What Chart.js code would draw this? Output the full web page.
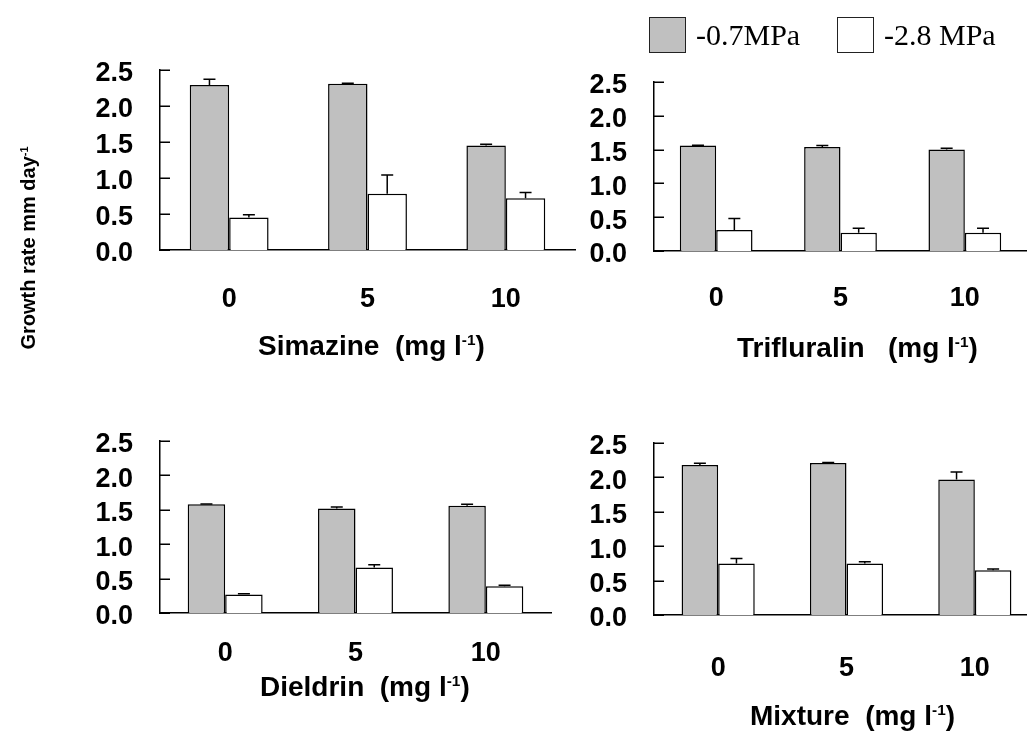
<!DOCTYPE html>
<html>
<head>
<meta charset="utf-8">
<script src="https://cdn.jsdelivr.net/npm/chart.js@4.4.1/dist/chart.umd.min.js"></script>
<style>
  html, body { margin: 0; padding: 0; background: #fff; overflow: hidden; }
  #wrap { position: relative; width: 1027px; height: 733px; overflow: hidden; background: #fff; }
  #wrap canvas { position: absolute; }
  .axis-title {
    position: absolute;
    font-family: "Liberation Sans", Arial, sans-serif;
    font-weight: bold;
    font-size: 28px;
    line-height: 28px;
    white-space: pre;
    color: #000;
  }
  .axis-title sup, .y-title sup {
    font-size: 55%;
    line-height: 0;
    vertical-align: 0;
    position: relative;
    top: -0.66em;
  }
  .y-title {
    position: absolute;
    left: 28px;
    top: 248px;
    transform: translate(-50%, -50%) rotate(-90deg);
    font-family: "Liberation Sans", Arial, sans-serif;
    font-weight: bold;
    font-size: 20px;
    line-height: 20px;
    white-space: nowrap;
    color: #000;
  }
  .legend-item { position: absolute; top: 17px; height: 36px; display: flex; align-items: center; }
  .legend-box { width: 37px; height: 36px; box-sizing: border-box; border: 1.5px solid #222; margin-right: 10px; }
  .legend-text { font-family: "Liberation Serif", "Times New Roman", serif; font-size: 30px; line-height: 36px; color: #000; white-space: pre; }
</style>
</head>
<body>
<div id="wrap">
  <div class="y-title">Growth rate mm day<sup>-1</sup></div>
  <div class="axis-title" style="left:258px; top:332px;">Simazine  (mg l<sup>-1</sup>)</div>
  <div class="axis-title" style="left:737px; top:334px;">Trifluralin   (mg l<sup>-1</sup>)</div>
  <div class="axis-title" style="left:260px; top:673px;">Dieldrin  (mg l<sup>-1</sup>)</div>
  <div class="axis-title" style="left:750px; top:702px;">Mixture  (mg l<sup>-1</sup>)</div>
</div>
<script>
// Concentrations (mg l-1) on each x axis
const categories = ['0', '5', '10'];
// Y axis tick values (growth rate, mm day-1)
const yTickValues = [0, 0.5, 1.0, 1.5, 2.0, 2.5];
// Water potential treatments
const seriesLabels = ['-0.7MPa', '-2.8 MPa'];
const seriesColors = ['#c0c0c0', '#ffffff'];

// Simazine
const simazineHigh = [2.29, 2.31, 1.45];
const simazineHighErr = [0.08, 0.005, 0.02];
const simazineLow = [0.45, 0.78, 0.72];
const simazineLowErr = [0.04, 0.26, 0.08];

// Trifluralin
const trifluralinHigh = [1.56, 1.54, 1.50];
const trifluralinHighErr = [0.005, 0.02, 0.02];
const trifluralinLow = [0.31, 0.27, 0.27];
const trifluralinLowErr = [0.17, 0.065, 0.065];

// Dieldrin
const dieldrinHigh = [1.58, 1.52, 1.56];
const dieldrinHighErr = [0.005, 0.02, 0.02];
const dieldrinLow = [0.27, 0.66, 0.39];
const dieldrinLowErr = [0.01, 0.04, 0.015];

// Mixture
const mixtureHigh = [2.18, 2.21, 1.97];
const mixtureHighErr = [0.025, 0.005, 0.11];
const mixtureLow = [0.75, 0.75, 0.65];
const mixtureLowErr = [0.07, 0.025, 0.02];

const FONT = "'Liberation Sans', Arial, sans-serif";

// Upward-only error bars with a short cap
const errorBarsPlugin = {
  id: 'errorBars',
  afterDatasetsDraw(chart) {
    const ctx = chart.ctx;
    const yScale = chart.scales.y;
    chart.data.datasets.forEach((ds, i) => {
      const meta = chart.getDatasetMeta(i);
      meta.data.forEach((bar, j) => {
        const topPx = yScale.getPixelForValue(ds.data[j] + ds.errors[j]);
        ctx.save();
        ctx.strokeStyle = '#000';
        ctx.lineWidth = 1.5;
        ctx.beginPath();
        ctx.moveTo(bar.x, bar.y);
        ctx.lineTo(bar.x, topPx);
        ctx.moveTo(bar.x - 6, topPx);
        ctx.lineTo(bar.x + 6, topPx);
        ctx.stroke();
        ctx.restore();
      });
    });
  }
};

// Tick marks on the value axis point into the plot
const innerTicksPlugin = {
  id: 'innerTicks',
  afterDraw(chart) {
    const ctx = chart.ctx;
    const yScale = chart.scales.y;
    const x0 = chart.chartArea.left;
    ctx.save();
    ctx.strokeStyle = '#000';
    ctx.lineWidth = 1.5;
    ctx.beginPath();
    yScale.ticks.forEach(t => {
      const py = Math.round(yScale.getPixelForValue(t.value)) + 0.25;
      ctx.moveTo(x0, py);
      ctx.lineTo(x0 + 10, py);
    });
    ctx.stroke();
    ctx.restore();
  }
};

const panels = [
  { high: simazineHigh, highErr: simazineHighErr, low: simazineLow, lowErr: simazineLowErr,
    x: 40, y: 40, w: 560, h: 300, yAxisW: 120, padTop: 30, padRight: 25, xAxisH: 90, xPad: 33, group: 0.57 },
  { high: trifluralinHigh, highErr: trifluralinHighErr, low: trifluralinLow, lowErr: trifluralinLowErr,
    x: 560, y: 50, w: 480, h: 290, yAxisW: 94, padTop: 32, padRight: 13, xAxisH: 89, xPad: 31, group: 0.585 },
  { high: dieldrinHigh, highErr: dieldrinHighErr, low: dieldrinLow, lowErr: dieldrinLowErr,
    x: 40, y: 410, w: 560, h: 323, yAxisW: 120, padTop: 31, padRight: 49, xAxisH: 120, xPad: 24, group: 0.575 },
  { high: mixtureHigh, highErr: mixtureHighErr, low: mixtureLow, lowErr: mixtureLowErr,
    x: 560, y: 410, w: 500, h: 323, yAxisW: 94, padTop: 33, padRight: 21, xAxisH: 118, xPad: 37, group: 0.57 }
];

// Fixed axis sizes; the layout padding alone places the plot area
function fixAxis(size, key) {
  return s => {
    s[key] = size;
    s.paddingTop = 0; s.paddingBottom = 0; s.paddingLeft = 0; s.paddingRight = 0;
  };
}

const wrap = document.getElementById('wrap');
const charts = panels.map(p => {
  const canvas = document.createElement('canvas');
  canvas.width = p.w;
  canvas.height = p.h;
  canvas.style.left = p.x + 'px';
  canvas.style.top = p.y + 'px';
  canvas.style.width = p.w + 'px';
  canvas.style.height = p.h + 'px';
  wrap.insertBefore(canvas, wrap.firstChild);
  return new Chart(canvas, {
    type: 'bar',
    data: {
      labels: categories,
      datasets: [
        { label: seriesLabels[0], data: p.high, errors: p.highErr,
          backgroundColor: seriesColors[0], borderColor: '#000', borderWidth: 1.5 },
        { label: seriesLabels[1], data: p.low, errors: p.lowErr,
          backgroundColor: seriesColors[1], borderColor: '#000', borderWidth: 1.5 }
      ]
    },
    options: {
      responsive: false,
      animation: false,
      devicePixelRatio: 1,
      layout: { padding: { left: 0, top: p.padTop, right: p.padRight, bottom: 0 } },
      datasets: { bar: { categoryPercentage: p.group, barPercentage: 1 } },
      plugins: { legend: { display: false }, tooltip: { enabled: false } },
      scales: {
        x: {
          z: 1,
          grid: { display: false, drawTicks: false },
          border: { display: true, color: '#000', width: 1.5 },
          ticks: { color: '#000', font: { family: FONT, size: 27, weight: 'bold' },
                   padding: p.xPad, maxRotation: 0, autoSkip: false },
          afterFit: fixAxis(p.xAxisH, 'height')
        },
        y: {
          min: 0,
          max: 2.5,
          z: 1,
          afterBuildTicks: s => { s.ticks = yTickValues.map(v => ({ value: v })); },
          grid: { display: false, drawTicks: false },
          border: { display: true, color: '#000', width: 1.5 },
          ticks: { color: '#000', font: { family: FONT, size: 27, weight: 'bold' },
                   padding: 27, labelOffset: 4, autoSkip: false,
                   callback: v => Number(v).toFixed(1) },
          afterFit: fixAxis(p.yAxisW, 'width')
        }
      }
    },
    plugins: [errorBarsPlugin, innerTicksPlugin]
  });
});

// Shared legend built from the first panel's datasets
const legendLefts = [649, 837];
charts[0].data.datasets.forEach((ds, i) => {
  const item = document.createElement('div');
  item.className = 'legend-item';
  item.style.left = legendLefts[i] + 'px';
  const box = document.createElement('div');
  box.className = 'legend-box';
  box.style.background = ds.backgroundColor;
  const text = document.createElement('span');
  text.className = 'legend-text';
  text.textContent = ds.label;
  item.appendChild(box);
  item.appendChild(text);
  wrap.appendChild(item);
});
</script>
</body>
</html>
